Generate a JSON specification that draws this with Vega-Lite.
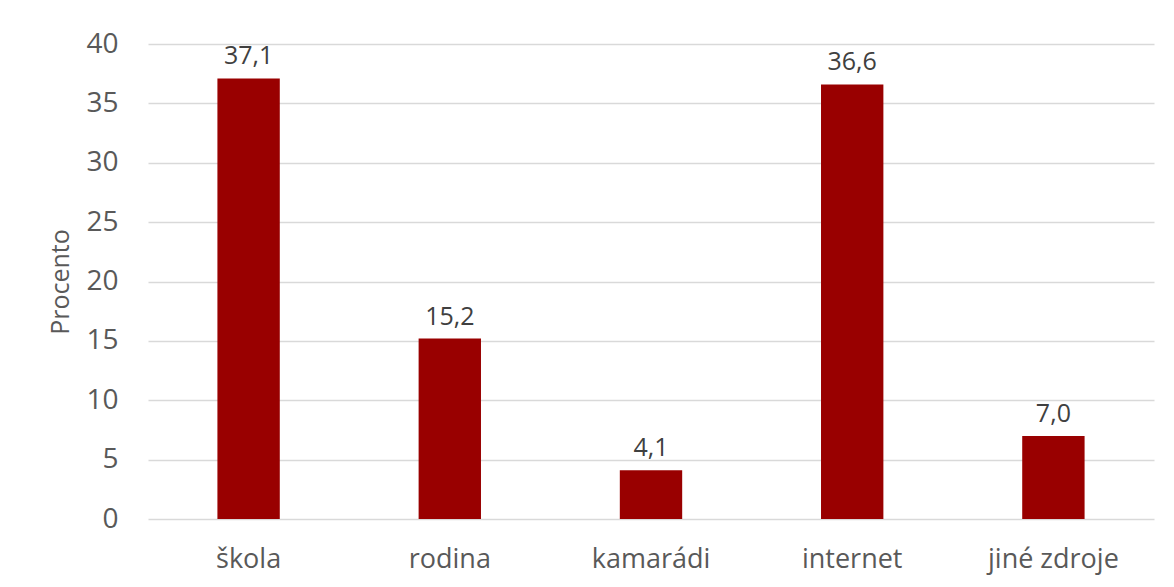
{
  "$schema": "https://vega.github.io/schema/vega-lite/v6.json",
  "width": 1006,
  "height": 475,
  "autosize": {"type": "none"},
  "padding": {"left": 148, "top": 44, "right": 20, "bottom": 68},
  "background": "white",
  "config": {
    "locale": {"number": {"decimal": ",", "thousands": " ", "grouping": [3], "currency": ["", " Kč"]}},
    "view": {"stroke": null},
    "font": "Open Sans"
  },
  "data": {"values": [
    {"zdroj": "škola", "procento": 37.1},
    {"zdroj": "rodina", "procento": 15.2},
    {"zdroj": "kamarádi", "procento": 4.1},
    {"zdroj": "internet", "procento": 36.6},
    {"zdroj": "jiné zdroje", "procento": 7.0}
  ]},
  "encoding": {
    "x": {
      "field": "zdroj", "type": "nominal", "sort": null,
      "scale": {"paddingInner": 0.69, "paddingOuter": 0.345},
      "axis": {"title": null, "labelAngle": 0, "labelFontSize": 27, "labelColor": "#595959", "labelPadding": 27, "domain": false, "ticks": false, "labelFont": "Open Sans"}
    },
    "y": {
      "field": "procento", "type": "quantitative",
      "scale": {"domain": [0, 40], "nice": false},
      "axis": {"title": "Procento", "titleFontSize": 25, "titleFontWeight": "normal", "titleColor": "#595959", "titlePadding": 12, "values": [0,5,10,15,20,25,30,35,40], "labelFontSize": 28, "labelColor": "#595959", "labelPadding": 30, "domain": false, "ticks": false, "gridColor": "#d9d9d9", "gridWidth": 1.5}
    }
  },
  "layer": [
    {"mark": {"type": "bar", "color": "#990000"}},
    {"mark": {"type": "text", "baseline": "alphabetic", "dy": -14, "fontSize": 25, "color": "#404040"},
     "encoding": {"text": {"field": "procento", "type": "quantitative", "format": ".1f"}}}
  ]
}
